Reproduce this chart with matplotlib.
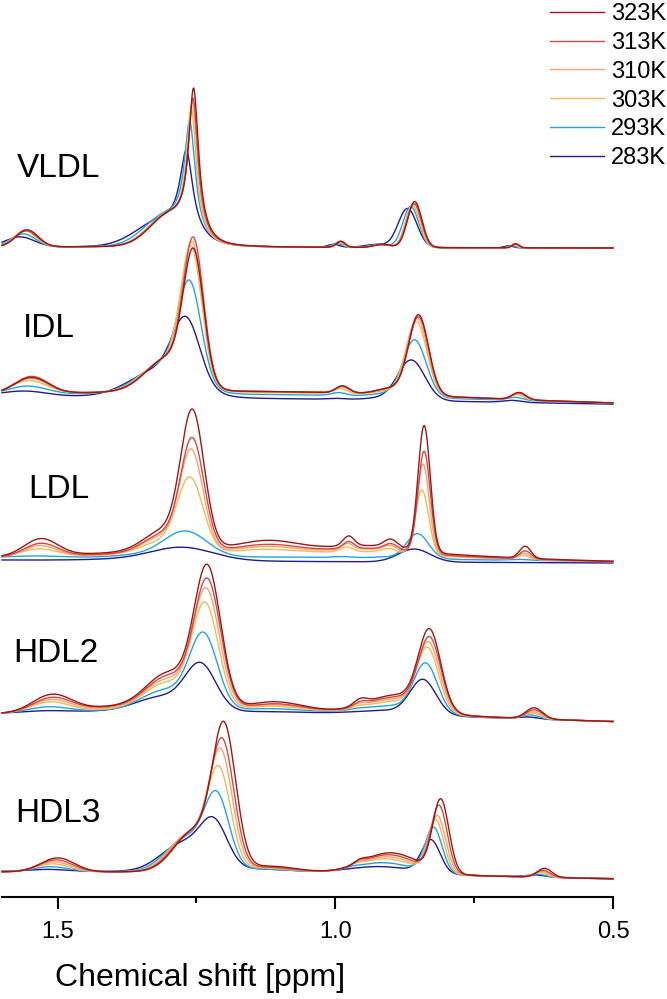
import numpy as np
import matplotlib
matplotlib.use("Agg")
import matplotlib.pyplot as plt

plt.rcParams['font.family'] = ['Liberation Sans', 'DejaVu Sans']

# ---------------- data ----------------
temps = ['323K', '313K', '310K', '303K', '293K', '283K']
colors = ['#9A1818', '#D64646', '#F4A46C', '#EEBB55', '#22A3E6', '#1E1E8E']
groups = ['VLDL', 'IDL', 'LDL', 'HDL2', 'HDL3']

x_ticks = [1.5, 1.0, 0.5]
x_tick_labels = ['1.5', '1.0', '0.5']
x_minor = [1.25, 0.75]

# baseline (left end at 1.6 ppm, right end at 0.5 ppm), intensity units
VLDL_base = [650, 649]
IDL_base = [500, 492]
LDL_base = [337, 334]
HDL2_base = [182, 174]
HDL3_base = [24, 17]

# peak centres (ppm), widths (ppm), shape, heights per temperature (rows = temps)
VLDL_centers = [1.555, 1.300, 1.255, 0.990, 0.915, 0.857, 0.675]
VLDL_widths = [0.020, 0.035, 0.011, 0.008, 0.015, 0.013, 0.006]
VLDL_shapes = ['G', 'G', 'L', 'G', 'G', 'G', 'G']
VLDL_heights = [
    [17, 28, 147, 6, 3, 46, 4],
    [16, 28, 137, 6, 3, 44, 4],
    [17, 28, 134, 5, 3, 44, 4],
    [16, 28, 127, 5, 3, 42, 3],
    [13, 28, 112, 4, 3, 41, 2],
    [10, 24, 82, 3, 3, 39, 2],
]
VLDL_shift = [0, 0.001, 0.002, 0.004, 0.007, 0.013]
VLDL_broaden = [1, 1, 1, 1, 1.1, 1.3]

IDL_centers = [1.547, 1.300, 1.255, 1.100, 0.987, 0.900, 0.850, 0.669]
IDL_widths = [0.030, 0.040, 0.018, 0.350, 0.012, 0.025, 0.018, 0.012]
IDL_shapes = ['G'] * 8
IDL_heights = [
    [16, 34, 125, 9, 7, 6, 80, 7],
    [17, 34, 136, 9, 7, 6, 78, 7],
    [15, 33, 132, 9, 6, 5, 77, 6],
    [13, 32, 128, 8, 5, 4, 74, 5],
    [8, 30, 95, 6, 3, 3, 57, 3],
    [5, 28, 61, 2, 1, 2, 40, 2],
]
IDL_shift = [0, 0, 0.002, 0.004, 0.007, 0.013]
IDL_broaden = [1, 1, 1, 1.05, 1.15, 1.35]

LDL_centers = [1.530, 1.310, 1.257, 1.120, 1.100, 0.976, 0.930, 0.900, 0.840, 0.658]
LDL_widths = [0.030, 0.035, 0.021, 0.050, 0.300, 0.010, 0.060, 0.012, 0.011, 0.010]
LDL_shapes = ['G'] * 10
LDL_heights = [
    [17, 20, 134, 8, 13, 10, 5, 8, 126, 12],
    [13, 18, 108, 6, 11, 7, 4, 6, 102, 8],
    [11, 16, 98, 5, 10, 6, 4, 5, 90, 6],
    [8, 12, 72, 4, 8, 5, 3, 4, 65, 4],
    [2, 4, 24, 1, 3, 1, 1, 1, 25, 1],
    [0, 2, 12, 0, 0, 0, 0, 0, 13, 0],
]
LDL_shift = [0, 0, 0.002, 0.004, 0.012, 0.018]
LDL_broaden = [1, 1, 1, 1.1, 1.8, 2.6]

HDL2_centers = [1.510, 1.400, 1.300, 1.230, 1.110, 1.050, 0.955, 0.890, 0.830, 0.642]
HDL2_widths = [0.035, 0.060, 0.040, 0.024, 0.050, 0.300, 0.012, 0.050, 0.020, 0.015]
HDL2_shapes = ['G'] * 10
HDL2_heights = [
    [18, 5.5, 37, 138, 9, 8, 6, 18, 77, 11],
    [15, 5, 34, 125, 7, 8, 4, 16, 70, 9],
    [13, 4, 31, 116, 6, 8, 3, 14, 66, 7],
    [11, 3, 28, 103, 5, 7.5, 2, 12, 62, 6],
    [6, 2, 21, 74, 3, 7, 1, 8, 48, 4],
    [2, 1.5, 15, 45, 1, 6, 0, 4, 34, 2],
]
HDL2_shift = [0, 0, 0.002, 0.004, 0.007, 0.012]
HDL2_broaden = [1, 1, 1, 1, 1.05, 1.15]

HDL3_centers = [1.500, 1.255, 1.200, 1.120, 1.050, 0.955, 0.900, 0.810, 0.623]
HDL3_widths = [0.030, 0.035, 0.021, 0.050, 0.350, 0.010, 0.050, 0.0145, 0.013]
HDL3_shapes = ['G'] * 9
HDL3_heights = [
    [14, 40, 137, 6, 4, 3, 21, 72, 9],
    [12, 39, 121, 5, 4, 3, 19, 66, 7],
    [10, 38, 111, 5, 4, 2, 17, 56, 6],
    [8, 37, 94, 4, 4, 2, 15, 52, 5],
    [5, 33, 69, 3, 4, 1, 11, 45, 3],
    [2, 28, 42, 3, 4, 0, 7, 33, 2],
]
HDL3_shift = [0, 0.003, 0.006, 0.009, 0.013, 0.018]
HDL3_broaden = [1, 1, 1, 1, 1.05, 1.15]

group_data = {
    'VLDL': (VLDL_base, VLDL_centers, VLDL_widths, VLDL_shapes, VLDL_heights, VLDL_shift, VLDL_broaden),
    'IDL': (IDL_base, IDL_centers, IDL_widths, IDL_shapes, IDL_heights, IDL_shift, IDL_broaden),
    'LDL': (LDL_base, LDL_centers, LDL_widths, LDL_shapes, LDL_heights, LDL_shift, LDL_broaden),
    'HDL2': (HDL2_base, HDL2_centers, HDL2_widths, HDL2_shapes, HDL2_heights, HDL2_shift, HDL2_broaden),
    'HDL3': (HDL3_base, HDL3_centers, HDL3_widths, HDL3_shapes, HDL3_heights, HDL3_shift, HDL3_broaden),
}

# group label positions (figure pixels: left x, baseline y from top)
label_pos = {'VLDL': (17, 177), 'IDL': (23, 337), 'LDL': (28, 498), 'HDL2': (13, 662), 'HDL3': (15, 822)}

# ---------------- drawing ----------------
W, H = 667, 999
fig = plt.figure(figsize=(W / 100, H / 100), dpi=100)
ax = fig.add_axes([2 / W, (H - 897) / H, (613 - 2) / W, 897 / H])
ax.set_xlim(1.6, 0.5)
ax.set_ylim(0, 897)

ppm = np.linspace(1.6, 0.5, 2000)


def spectrum(base, centers, widths, shapes, heights, shift, broaden):
    y = base[0] + (base[1] - base[0]) * (1.6 - ppm) / 1.1
    for c, w, s, h in zip(centers, widths, shapes, heights):
        c = c + shift
        w = w * broaden
        if s == 'L':
            y = y + h / (1 + ((ppm - c) / w) ** 2)
        else:
            y = y + h * np.exp(-0.5 * ((ppm - c) / w) ** 2)
    return y


handles = {}
for g in groups:
    base, cen, wid, shp, hts, sh, br = group_data[g]
    for i in range(len(temps) - 1, -1, -1):
        y = spectrum(base, cen, wid, shp, hts[i], sh[i], br[i])
        ln, = ax.plot(ppm, y, color=colors[i], lw=1.0, clip_on=False)
        handles[temps[i]] = ln
    lx, ly = label_pos[g]
    fig.text(lx / W, 1 - ly / H, g, fontsize=24, ha='left', va='baseline')

for s in ['top', 'left', 'right']:
    ax.spines[s].set_visible(False)
ax.spines['bottom'].set_linewidth(1.5)
ax.yaxis.set_visible(False)
ax.set_xticks(x_ticks)
ax.set_xticklabels(x_tick_labels)
ax.set_xticks(x_minor, minor=True)
ax.tick_params(axis='x', which='major', length=8.6, width=1.5, labelsize=17, pad=9)
ax.tick_params(axis='x', which='minor', length=4.3, width=1.5)

fig.text(55 / W, 1 - 986 / H, 'Chemical shift [ppm]', fontsize=23, ha='left', va='baseline')

fig.legend([handles[t] for t in temps], temps, loc='upper right',
           bbox_to_anchor=(666 / W, 1 - 3 / H), frameon=False, fontsize=17,
           handlelength=2.3, handletextpad=0.3, labelspacing=0.29,
           borderpad=0, borderaxespad=0)

fig.savefig('out.png', dpi=100)
